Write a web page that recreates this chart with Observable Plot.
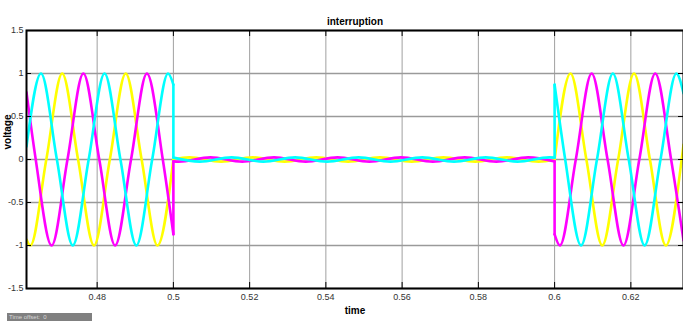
<!DOCTYPE html>
<html>
<head>
<meta charset="utf-8">
<script src="https://cdn.jsdelivr.net/npm/d3@7"></script>
<script src="https://cdn.jsdelivr.net/npm/@observablehq/plot@0.6"></script>
<style>
  html, body { margin: 0; padding: 0; background: #fff; }
  #wrap { position: relative; width: 683px; height: 321px; overflow: hidden; }
  #offset { position: absolute; left: 7px; top: 313px; width: 83px; height: 8px; background: #808080;
            color: #d8d8d8; font: 6px "Liberation Sans Narrow", "Liberation Sans", sans-serif; line-height: 8px; padding-left: 2px; white-space: pre; }
</style>
</head>
<body>
<div id="wrap"></div>
<script>
// ---- data ----
const phases = ["A", "B", "C"];                 // yellow, magenta, cyan traces
const phaseColors = ["#ffff00", "#ff00ff", "#00ffff"];
const xTicks = [0.48, 0.5, 0.52, 0.54, 0.56, 0.58, 0.6, 0.62];
const xTickLabels = ["0.48", "0.5", "0.52", "0.54", "0.56", "0.58", "0.6", "0.62"];
const yTicks = [-1.5, -1, -0.5, 0, 0.5, 1, 1.5];
const yTickLabels = ["-1.5", "-1", "-0.5", "0", "0.5", "1", "1.5"];
const xDomain = [0.46147, 0.63381];
const titleText = "interruption";
const xLabel = "time";
const yLabel = "voltage";

// phase A (yellow): before, during and after the interruption  [time, voltage]
const aPre = [[0.46147,-0.93],[0.46250,-1],[0.46667,0],[0.47083,1],[0.47500,0],[0.47917,-1],[0.48333,0],[0.48750,1],[0.49167,0],[0.49583,-1],[0.50000,0]];
const aMid = [[0.5,0],[0.50417,0.025],[0.5125,-0.025],[0.52083,0.025],[0.52917,-0.025],[0.5375,0.025],[0.54583,-0.025],[0.55417,0.025],[0.5625,-0.025],[0.57083,0.025],[0.57917,-0.025],[0.5875,0.025],[0.59583,-0.025],[0.6,0]];
const aPost = [[0.6,0],[0.60417,1],[0.60833,0],[0.6125,-1],[0.61667,0],[0.62083,1],[0.625,0],[0.62917,-1],[0.63333,0],[0.63381,0.17]];
// phase B (magenta)
const bPre = [[0.46147,0.78],[0.46389,0],[0.46806,-1],[0.47222,0],[0.47639,1],[0.48056,0],[0.48472,-1],[0.48889,0],[0.49306,1],[0.49722,0],[0.5,-0.87]];
const bMid = [[0.5,-0.022],[0.50139,-0.025],[0.50972,0.025],[0.51806,-0.025],[0.52639,0.025],[0.53472,-0.025],[0.54306,0.025],[0.55139,-0.025],[0.55972,0.025],[0.56806,-0.025],[0.57639,0.025],[0.58472,-0.025],[0.59306,0.025],[0.6,-0.022]];
const bPost = [[0.6,-0.87],[0.60139,-1],[0.60556,0],[0.60972,1],[0.61389,0],[0.61806,-1],[0.62222,0],[0.62639,1],[0.63056,0],[0.63381,-0.94]];
// phase C (cyan)
const cPre = [[0.46147,0.15],[0.46528,1],[0.46944,0],[0.47361,-1],[0.47778,0],[0.48194,1],[0.48611,0],[0.49028,-1],[0.49444,0],[0.49861,1],[0.5,0.87]];
const cMid = [[0.5,0.022],[0.50694,-0.025],[0.51528,0.025],[0.52361,-0.025],[0.53194,0.025],[0.54028,-0.025],[0.54861,0.025],[0.55694,-0.025],[0.56528,0.025],[0.57361,-0.025],[0.58194,0.025],[0.59028,-0.025],[0.59861,0.025],[0.6,0.022]];
const cPost = [[0.6,0.87],[0.60278,0],[0.60694,-1],[0.61111,0],[0.61528,1],[0.61944,0],[0.62361,-1],[0.62778,0],[0.63194,1],[0.63381,0.77]];

// ---- build table ----
const segs = {A: [aPre, aMid, aPost], B: [bPre, bMid, bPost], C: [cPre, cMid, cPost]};
const rows = [];
for (const p of phases) {
  const [pre, mid, post] = segs[p];
  const parts = [
    ["pre", pre],
    ["jump1", [pre[pre.length - 1], mid[0]]],
    ["mid", mid],
    ["jump2", [mid[mid.length - 1], post[0]]],
    ["post", post]
  ];
  for (const [name, pts] of parts) {
    for (const [t, v] of pts) rows.push({t, v, phase: p, key: p + name});
  }
}

const xFmt = d => xTickLabels[xTicks.indexOf(d)];
const yFmt = d => yTickLabels[yTicks.indexOf(d)];
const font = '"Liberation Sans Narrow", "Liberation Sans", Arial, sans-serif';
const frameH = 321 - 30 - 33;
const frameW = 683 - 26 - 0;

const chart = Plot.plot({
  width: 683,
  height: 321,
  marginLeft: 26,
  marginRight: 0,
  marginTop: 30,
  marginBottom: 33,
  style: {fontFamily: font, fontSize: "9px", color: "#222", background: "#fff"},
  x: {domain: xDomain, type: "linear"},
  y: {domain: [-1.5, 1.5]},
  color: {domain: phases, range: phaseColors},
  marks: [
    Plot.gridX(xTicks, {stroke: "#a0a0a0", strokeOpacity: 1, strokeWidth: 1}),
    Plot.gridY(yTicks, {stroke: "#9a9a9a", strokeOpacity: 1, strokeWidth: 1.6}),
    Plot.line(rows, {x: "t", y: "v", z: "key", stroke: "phase", strokeWidth: 2.6, curve: "monotone-x", clip: true}),
    Plot.tickX(xTicks, {x: d => d, insetTop: frameH - 6, stroke: "#000", strokeWidth: 1}),
    Plot.tickX(xTicks, {x: d => d, insetBottom: frameH - 6, stroke: "#000", strokeWidth: 1}),
    Plot.tickY(yTicks, {y: d => d, insetRight: frameW - 5, stroke: "#000", strokeWidth: 1}),
    Plot.tickY(yTicks, {y: d => d, insetLeft: frameW - 5, stroke: "#000", strokeWidth: 1}),
    Plot.frame({stroke: "#000", strokeWidth: 2}),
    Plot.axisX(xTicks, {tickSize: 0, tickPadding: 5, tickFormat: xFmt, label: null, fill: "#333"}),
    Plot.axisY(yTicks, {tickSize: 0, tickPadding: 3, tickFormat: yFmt, label: null, fill: "#333"}),
    Plot.text([titleText], {frameAnchor: "top", dy: -13, fontWeight: "bold", fontSize: 10, fill: "#000"}),
    Plot.text([xLabel], {frameAnchor: "bottom", dy: 25, fontWeight: "bold", fontSize: 10, fill: "#000"}),
    Plot.text([yLabel], {frameAnchor: "left", dx: -19, dy: -10, rotate: -90, fontWeight: "bold", fontSize: 10, fill: "#000"})
  ]
});
const wrap = document.getElementById("wrap");
wrap.appendChild(chart);
const off = document.createElement("div");
off.id = "offset";
off.textContent = "Time offset:  0";
wrap.appendChild(off);
</script>
</body>
</html>
